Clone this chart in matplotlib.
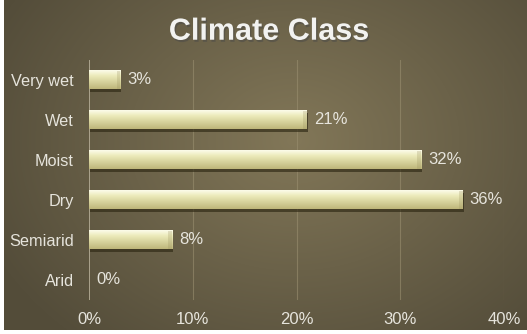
import numpy as np
import matplotlib.pyplot as plt
from matplotlib import patheffects

plt.rcParams['font.family'] = ['Liberation Sans', 'DejaVu Sans']

categories = ['Very wet', 'Wet', 'Moist', 'Dry', 'Semiarid', 'Arid']
shares = [3, 21, 32, 36, 8, 0]
xticks = [0, 10, 20, 30, 40]

fig = plt.figure(figsize=(5.27, 3.34), dpi=100)

# radial brown background
bg = fig.add_axes([0.008, 0.012, 0.992, 0.988])
bg.set_axis_off()
yy, xx = np.mgrid[0:330, 0:523]
r = np.sqrt(((xx - 290) / 330.0) ** 2 + ((yy - 140) / 260.0) ** 2)
r = np.clip(r, 0, 1)
inner = np.array([130, 119, 88]) / 255.0
outer = np.array([84, 77, 58]) / 255.0
img = inner[None, None, :] * (1 - r[..., None]) + outer[None, None, :] * r[..., None]
bg.imshow(img, aspect='auto', extent=[0, 1, 0, 1])
bg.set_xlim(0, 1)
bg.set_ylim(0, 1)

ax = fig.add_axes([0.1689, 0.1018, 0.7875, 0.7186])
ax.patch.set_alpha(0)
for s in ax.spines.values():
    s.set_visible(False)

ax.set_xlim(0, 40)
ax.set_ylim(len(categories) - 0.5, -0.5)
ax.set_xticks(xticks)
ax.set_xticklabels(['%d%%' % t for t in xticks], color='#e6e4dc', fontsize=12)
ax.set_yticks(range(len(categories)))
ax.set_yticklabels(categories, color='#e6e4dc', fontsize=11.7)
ax.tick_params(length=0, pad=12)
ax.tick_params(axis='y', pad=11)
ax.tick_params(axis='x', pad=9)

for t in xticks[1:]:
    ax.axvline(t, color='#9a8f70', lw=0.8, alpha=0.6, zorder=0)
ax.axvline(0, color='#b8b09a', lw=1.2, zorder=1)

# cream gradient for the bars
g = np.linspace(0, 1, 64)
top = np.array([252, 252, 234]) / 255.0
mid = np.array([236, 234, 186]) / 255.0
bot = np.array([190, 182, 122]) / 255.0
col = np.where(g[:, None] < 0.3,
               top + (mid - top) * (g[:, None] / 0.3),
               mid + (bot - mid) * ((g[:, None] - 0.3) / 0.7))
grad = np.repeat(col[:, None, :], 2, axis=1)

h = 0.46
for i, v in enumerate(shares):
    if v > 0:
        ax.add_patch(plt.Rectangle((0.12, i - h / 2 + 0.06), v, h, color='#2e2814', alpha=0.65, lw=0, zorder=2))
        ax.imshow(grad, aspect='auto', extent=[0, v, i + h / 2, i - h / 2], zorder=3, interpolation='bilinear')
        ax.add_patch(plt.Rectangle((v - 0.35, i - h / 2), 0.35, h, color='#9a9060', alpha=0.25, lw=0, zorder=4))
    ax.text(v + 0.7, i, '%d%%' % v, va='center', ha='left', color='#e6e4dc', fontsize=12, zorder=5)

ax.set_xlim(0, 40)
ax.set_ylim(len(categories) - 0.5, -0.5)

fig.text(0.51, 0.905, 'Climate Class', ha='center', va='center', fontsize=22, fontweight='bold',
         color='#f2f2f0', path_effects=[patheffects.withSimplePatchShadow(offset=(1, -1.5), alpha=0.5)])

fig.savefig('out.png', dpi=100)
